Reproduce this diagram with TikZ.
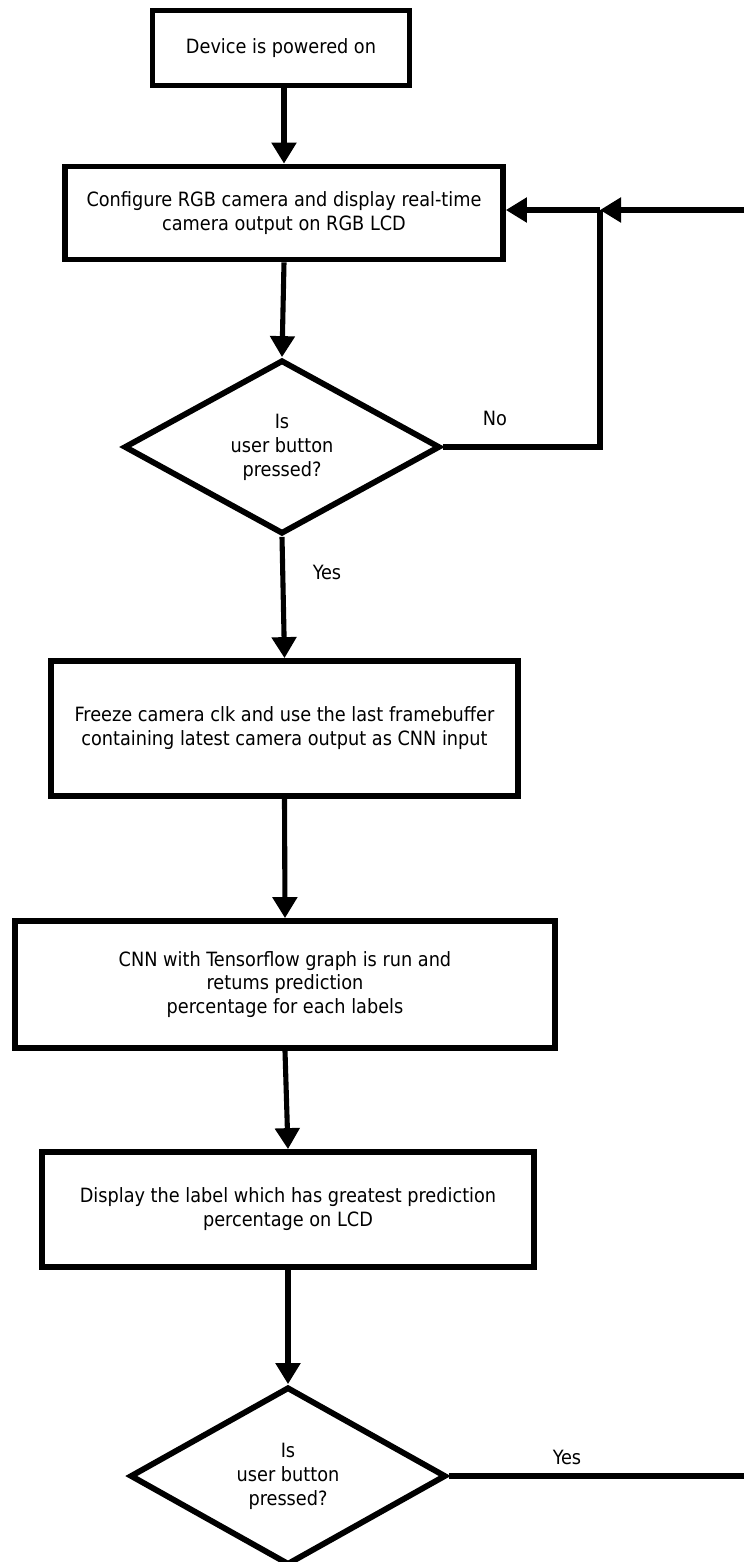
\documentclass[tikz,border=0pt]{standalone}
\usepackage{fontspec}
\setmainfont{DejaVu Sans Condensed}
\usetikzlibrary{shapes.geometric,arrows.meta}
\tikzset{
  stepbox/.style={draw, line width=3.3pt, align=center, inner sep=0pt},
  decision/.style={diamond, draw, line width=3.3pt, align=center, inner sep=0pt},
  arr/.style={line width=2.9pt, -{Triangle[length=0.42cm,width=0.48cm]}},
  line/.style={line width=2.9pt},
  txt/.style={font=\fontsize{11.2}{13.6}\selectfont}
}

\begin{document}
\begin{tikzpicture}[x=0.02cm,y=-0.02cm,every node/.style={txt}]
  \clip (0,0) rectangle (744,1562);
  \node[stepbox, minimum width=5.14cm, minimum height=1.5cm] (pwr) at (281,48) {Device is powered on};
  \node[stepbox, minimum width=8.76cm, minimum height=1.86cm] (cfg) at (284,213) {Configure RGB camera and display real-time\\camera output on RGB LCD};
  \node[decision, minimum width=6.32cm, minimum height=3.48cm] (ask1) at (282,447) {Is\\user button\\pressed?};
  \node[stepbox, minimum width=9.34cm, minimum height=2.7cm] (frz) at (284.5,728.5) {Freeze camera clk and use the last framebuffer\\containing latest camera output as CNN input};
  \node[stepbox, minimum width=10.8cm, minimum height=2.54cm] (cnn) at (285,984.5) {CNN with Tensorflow graph is run and\\retums prediction\\percentage for each labels};
  \node[stepbox, minimum width=9.84cm, minimum height=2.3cm] (disp) at (288,1209.5) {Display the label which has greatest prediction\\percentage on LCD};
  \node[decision, minimum width=6.32cm, minimum height=3.56cm] (ask2) at (288,1476) {Is\\user button\\pressed?};

  \coordinate (jn) at (600,210);
  \coordinate (back) at (744,210);
  \coordinate (out) at (744,1476);

  \draw[arr] (pwr.south -| cfg.north) -- (cfg.north);
  \draw[arr] (cfg.south) -- (ask1.north);
  \draw[arr] (ask1.south) -- (frz.north);
  \draw[arr] (frz.south) -- (cnn.north);
  \draw[arr] (cnn.south) -- (disp.north);
  \draw[arr] (disp.south) -- (ask2.north);
  % loop back when the button is not pressed
  \draw[line] (ask1.east) -- (ask1.east -| jn) -- (jn);
  \draw[arr] (back) -- (jn);
  \draw[arr] (jn) -- (jn -| cfg.east);
  \draw[line] (ask2.east) -- (out);

  \node (no1) at (495,418) {No};
  \node (yes1) at (327,572) {Yes};
  \node (yes2) at (567,1457) {Yes};
\end{tikzpicture}
\end{document}
